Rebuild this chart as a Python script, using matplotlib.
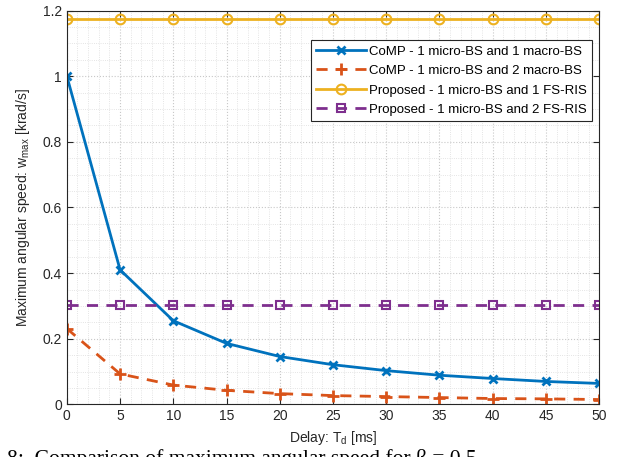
import numpy as np
import matplotlib
matplotlib.use("Agg")
import matplotlib.pyplot as plt
from matplotlib.ticker import MultipleLocator

# ── data ─────────────────────────────────────────────────────────────────────
delay_ms = [0, 5, 10, 15, 20, 25, 30, 35, 40, 45, 50]
comp_1macro = [1.0, 0.41, 0.255, 0.186, 0.146, 0.121, 0.103, 0.089, 0.079, 0.070, 0.064]
comp_2macro = [0.231, 0.093, 0.059, 0.043, 0.033, 0.027, 0.024, 0.021, 0.018, 0.017, 0.015]
prop_1ris = [1.175] * 11
prop_2ris = [0.303] * 11

labels = [
    "CoMP - 1 micro-BS and 1 macro-BS",
    "CoMP - 1 micro-BS and 2 macro-BS",
    "Proposed - 1 micro-BS and 1 FS-RIS",
    "Proposed - 1 micro-BS and 2 FS-RIS",
]
yticks = [0, 0.2, 0.4, 0.6, 0.8, 1.0, 1.2]
ytick_labels = ["0", "0.2", "0.4", "0.6", "0.8", "1", "1.2"]

plt.rcParams["font.family"] = ["Liberation Sans", "DejaVu Sans"]

fig = plt.figure(figsize=(6.19, 4.57), dpi=100)
ax = fig.add_axes([0.108, 0.115, 0.860, 0.862])

ax.plot(delay_ms, comp_1macro, "-", color="#0072BD", lw=2, marker="x",
        ms=6, mew=2, label=labels[0])
ax.plot(delay_ms, comp_2macro, "--", color="#D95319", lw=2, marker="+",
        ms=8, mew=2, dashes=(4, 3), label=labels[1])
ax.plot(delay_ms, prop_1ris, "-", color="#EDB120", lw=2, marker="o",
        ms=7, mew=1.5, mfc="none", label=labels[2])
ax.plot(delay_ms, prop_2ris, "--", color="#7E2F8E", lw=2, marker="s",
        ms=6, mew=1.5, mfc="none", dashes=(4, 3), label=labels[3])

ax.set_xlim(0, 50)
ax.set_ylim(0, 1.2)
ax.xaxis.set_major_locator(MultipleLocator(5))
ax.set_yticks(yticks, ytick_labels)
ax.xaxis.set_minor_locator(MultipleLocator(1))
ax.yaxis.set_minor_locator(MultipleLocator(0.05))

ax.grid(which="major", ls=":", color="#c8c8c8", lw=0.8)
ax.grid(which="minor", ls=":", color="#dcdcdc", lw=0.6)
ax.set_axisbelow(True)

ax.tick_params(which="major", direction="in", length=4, top=True, right=True,
               labelsize=10, colors="#262626", width=0.8)
ax.tick_params(which="minor", length=0, top=True, right=True)
for s in ax.spines.values():
    s.set_color("#262626")
    s.set_linewidth(0.8)

ax.set_xlabel("Delay: T$_\\mathregular{d}$ [ms]", fontsize=10, color="#262626")
ax.set_ylabel("Maximum angular speed: w$_\\mathregular{max}$ [krad/s]",
              fontsize=10, color="#262626", labelpad=8)

leg = ax.legend(loc="upper right", bbox_to_anchor=(0.987, 0.925), fontsize=9.5,
                fancybox=False, framealpha=1, edgecolor="#262626",
                borderpad=0.4, labelspacing=0.55, handlelength=3.8,
                handletextpad=0.2, borderaxespad=0)
leg.get_frame().set_linewidth(0.8)

# caption of the paper, cut off by the page edge
fig.text(0.012, -0.016, "8:  Comparison of maximum angular speed for β = 0.5",
         family="Liberation Serif", fontsize=15.5, va="baseline")

fig.savefig("out.png", dpi=100)
